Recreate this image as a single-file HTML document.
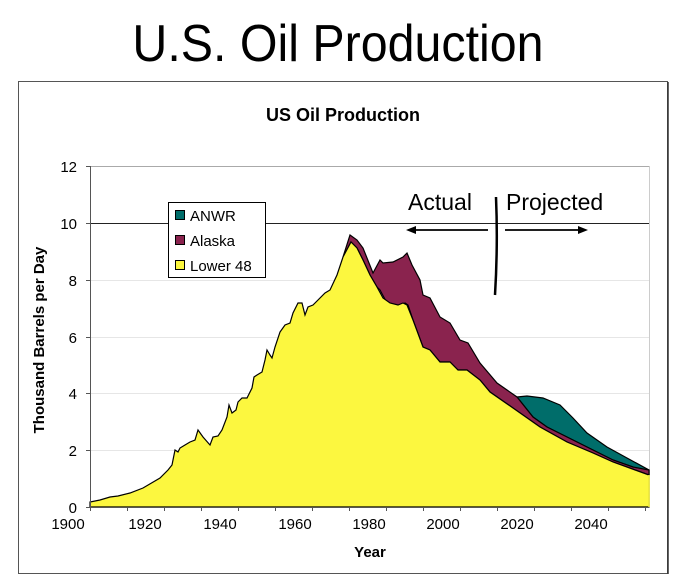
<!DOCTYPE html>
<html><head><meta charset="utf-8"><style>
html,body{margin:0;padding:0;background:#fff;}
svg{display:block;font-family:"Liberation Sans",Arial,sans-serif;}
</style></head><body>
<svg width="694" height="580" viewBox="0 0 694 580" xmlns="http://www.w3.org/2000/svg">
<text x="338" y="61" font-size="52" text-anchor="middle" transform="translate(338,0) scale(0.93,1) translate(-338,0)">U.S. Oil Production</text>
<rect x="18.5" y="81.5" width="649" height="492" fill="#fff" stroke="#555" stroke-width="1"/>
<line x1="668" y1="82" x2="668" y2="574" stroke="#333" stroke-width="1.5"/>
<text x="343" y="121" font-size="18" font-weight="bold" text-anchor="middle">US Oil Production</text>
<!-- gridlines -->
<g stroke="#e6e6e6" stroke-width="1">
<line x1="90" y1="166.5" x2="649" y2="166.5" stroke="#aaa"/>
<line x1="90" y1="280.5" x2="649" y2="280.5"/>
<line x1="90" y1="337.5" x2="649" y2="337.5"/>
<line x1="90" y1="393.5" x2="649" y2="393.5"/>
<line x1="90" y1="450.5" x2="649" y2="450.5"/>
</g>
<line x1="90" y1="223.5" x2="649" y2="223.5" stroke="#222" stroke-width="1"/>
<line x1="649.5" y1="166" x2="649.5" y2="507" stroke="#ccc"/>
<!-- ANWR -->
<path d="M517,397 L527,396 L543,398 L560,405 L573,418 L587,433 L607,447 L627,458 L649,470 L649,475 L633,467 L613,460 L593,450 L567,437 L547,427 L533,417 Z" fill="#006d6a" stroke="#000" stroke-width="1.2"/>
<!-- Alaska -->
<path d="M343,257 L350,235 L357,240 L363,248 L373,273 L380,260 L383,263 L393,262 L403,257 L407,253 L412,265 L420,280 L423,295 L430,298 L440,317 L450,323 L460,340 L468,343 L480,363 L497,383 L517,397 L533,417 L547,427 L567,437 L593,450 L613,460 L633,467 L649,470 L649,475 L613,462 L593,453 L567,442 L540,427 L513,408 L490,392 L480,380 L467,370 L458,370 L450,362 L440,362 L430,350 L423,347 L413,320 L408,305 L405,303 L400,307 L393,309 L387,303 L380,290 L377,287 L370,275 L363,260 L357,248 L351,242 Z" fill="#8a234e" stroke="#000" stroke-width="1.2"/>
<!-- Lower 48 -->
<path d="M90,507 L90,502 L100,500 L110,497 L118,496 L130,493 L143,488 L160,478 L168,470 L172,465 L175,450 L178,452 L180,448 L185,445 L190,442 L195,440 L198,430 L203,437 L210,445 L213,437 L218,436 L222,430 L227,417 L229,405 L232,413 L236,410 L238,402 L242,398 L247,398 L252,388 L254,377 L257,375 L262,372 L265,360 L267,350 L270,355 L272,358 L275,347 L280,332 L285,325 L290,323 L293,313 L298,303 L302,303 L305,315 L308,307 L313,305 L318,300 L325,293 L330,290 L337,275 L343,257 L351,242 L357,248 L363,260 L370,275 L377,287 L383,298 L390,303 L398,305 L403,303 L407,305 L413,320 L423,347 L430,350 L440,362 L450,362 L458,370 L467,370 L480,380 L490,392 L513,408 L540,427 L567,442 L593,453 L613,462 L649,475 L649,507 Z" fill="#fcf73f" stroke="#000" stroke-width="1.2"/>
<line x1="649" y1="475" x2="649" y2="507" stroke="#fcf73f" stroke-width="1.5"/>
<!-- axes -->
<line x1="90.5" y1="166" x2="90.5" y2="511" stroke="#555"/>
<line x1="86" y1="507.5" x2="649" y2="507.5" stroke="#555"/>
<g stroke="#555">
<line x1="86" y1="166.5" x2="90" y2="166.5"/><line x1="86" y1="223.5" x2="90" y2="223.5"/><line x1="86" y1="280.5" x2="90" y2="280.5"/><line x1="86" y1="337.5" x2="90" y2="337.5"/><line x1="86" y1="393.5" x2="90" y2="393.5"/><line x1="86" y1="450.5" x2="90" y2="450.5"/>
<line x1="127.5" y1="507" x2="127.5" y2="511"/><line x1="164.5" y1="507" x2="164.5" y2="511"/><line x1="201.5" y1="507" x2="201.5" y2="511"/><line x1="238.5" y1="507" x2="238.5" y2="511"/><line x1="275.5" y1="507" x2="275.5" y2="511"/><line x1="312.5" y1="507" x2="312.5" y2="511"/><line x1="349.5" y1="507" x2="349.5" y2="511"/><line x1="386.5" y1="507" x2="386.5" y2="511"/><line x1="423.5" y1="507" x2="423.5" y2="511"/><line x1="460.5" y1="507" x2="460.5" y2="511"/><line x1="497.5" y1="507" x2="497.5" y2="511"/><line x1="534.5" y1="507" x2="534.5" y2="511"/><line x1="571.5" y1="507" x2="571.5" y2="511"/><line x1="608.5" y1="507" x2="608.5" y2="511"/><line x1="645.5" y1="507" x2="645.5" y2="511"/>
</g>
<g font-size="15" text-anchor="end">
<text x="77" y="172">12</text><text x="77" y="229">10</text><text x="77" y="286">8</text><text x="77" y="343">6</text><text x="77" y="399">4</text><text x="77" y="456">2</text><text x="77" y="513">0</text>
</g>
<g font-size="15" text-anchor="middle">
<text x="68" y="529">1900</text><text x="145" y="529">1920</text><text x="220" y="529">1940</text><text x="295" y="529">1960</text><text x="369" y="529">1980</text><text x="443" y="529">2000</text><text x="517" y="529">2020</text><text x="591" y="529">2040</text>
</g>
<text x="370" y="557" font-size="15" font-weight="bold" text-anchor="middle">Year</text>
<text transform="translate(44,340) rotate(-90)" font-size="15" font-weight="bold" text-anchor="middle">Thousand Barrels per Day</text>
<!-- legend -->
<rect x="168.5" y="202.5" width="97" height="75" fill="#fff" stroke="#000"/>
<rect x="175.5" y="210.5" width="9" height="9" fill="#006d6a" stroke="#000"/>
<rect x="175.5" y="235.5" width="9" height="9" fill="#8a234e" stroke="#000"/>
<rect x="175.5" y="260.5" width="9" height="9" fill="#fcf73f" stroke="#000"/>
<g font-size="15"><text x="190" y="221">ANWR</text><text x="190" y="246">Alaska</text><text x="190" y="271">Lower 48</text></g>
<!-- annotation -->
<text x="408" y="210" font-size="23">Actual</text>
<text x="506" y="210" font-size="23">Projected</text>
<path d="M496,197 Q498,245 495,295" stroke="#000" stroke-width="2.5" fill="none"/>
<line x1="412" y1="230" x2="488" y2="230" stroke="#000" stroke-width="1.8"/>
<path d="M406,230 L416,226 L416,234 Z" fill="#000"/>
<line x1="505" y1="230" x2="582" y2="230" stroke="#000" stroke-width="1.8"/>
<path d="M588,230 L578,226 L578,234 Z" fill="#000"/>
</svg>
</body></html>
